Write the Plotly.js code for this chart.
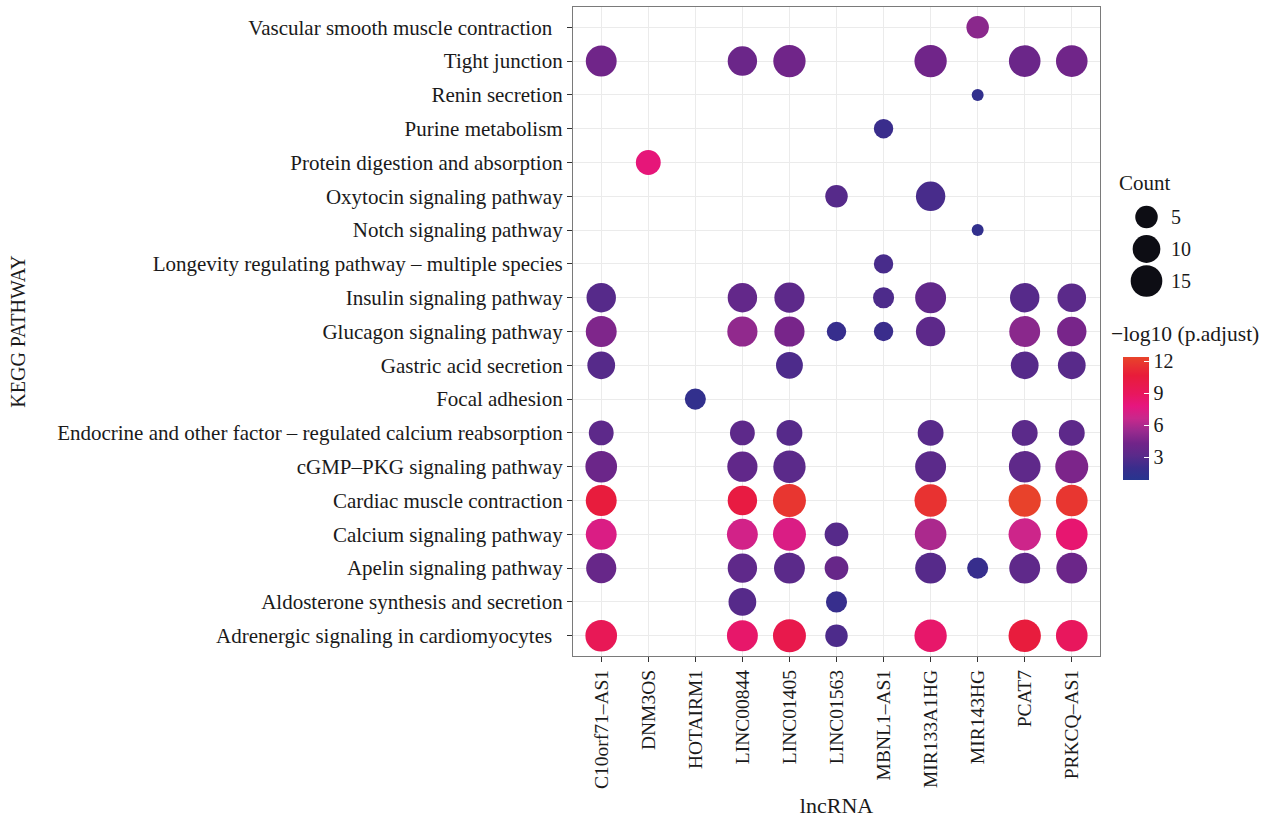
<!DOCTYPE html>
<html>
<head>
<meta charset="utf-8">
<script src="https://cdn.plot.ly/plotly-3.0.1.min.js"></script>
<style>html,body{margin:0;padding:0;background:#fff;}#chart{width:1275px;height:821px;}</style>
</head>
<body>
<div id="chart"></div>
<script>
// Categories
const lncRNAs = ["C10orf71\u2013AS1","DNM3OS","HOTAIRM1","LINC00844","LINC01405","LINC01563","MBNL1\u2013AS1","MIR133A1HG","MIR143HG","PCAT7","PRKCQ\u2013AS1"];
// bottom to top
const pathways = [
  "Adrenergic signaling in cardiomyocytes",
  "Aldosterone synthesis and secretion",
  "Apelin signaling pathway",
  "Calcium signaling pathway",
  "Cardiac muscle contraction",
  "cGMP\u2013PKG signaling pathway",
  "Endocrine and other factor \u2013 regulated calcium reabsorption",
  "Focal adhesion",
  "Gastric acid secretion",
  "Glucagon signaling pathway",
  "Insulin signaling pathway",
  "Longevity regulating pathway \u2013 multiple species",
  "Notch signaling pathway",
  "Oxytocin signaling pathway",
  "Protein digestion and absorption",
  "Purine metabolism",
  "Renin secretion",
  "Tight junction",
  "Vascular smooth muscle contraction"
];
const pathwayTickText = pathways.map(p => (p.startsWith("Vascular") || p.startsWith("Adrenergic")) ? p + "\u00a0\u00a0" : p);

// Points: pathway index (into pathways), lncRNA index, Count, -log10(p.adjust)
const ptPath = [
  18,
  17,17,17,17,17,17,
  16,
  15,
  14,
  13,13,
  12,
  11,
  10,10,10,10,10,10,10,
  9,9,9,9,9,9,9,9,
  8,8,8,8,
  7,
  6,6,6,6,6,6,
  5,5,5,5,5,5,
  4,4,4,4,4,4,
  3,3,3,3,3,3,3,
  2,2,2,2,2,2,2,2,
  1,1,
  0,0,0,0,0,0,0
];
const ptLnc = [
  8,
  0,3,4,7,9,10,
  8,
  6,
  1,
  5,7,
  8,
  6,
  0,3,4,6,7,9,10,
  0,3,4,5,6,7,9,10,
  0,4,9,10,
  2,
  0,3,4,7,9,10,
  0,3,4,7,9,10,
  0,3,4,7,9,10,
  0,3,4,5,7,9,10,
  0,3,4,5,7,8,9,10,
  3,5,
  0,3,4,5,7,9,10
];
const ptCount = [
  5,
  14,12,16,16,15,15,
  1,
  3,
  7,
  5,12,
  1,
  3,
  12,12,13,4,14,12,11,
  14,13,13,3,3,12,14,12,
  10,9,10,10,
  4,
  7,7,8,8,8,8,
  15,13,16,14,15,17,
  14,12,17,16,16,15,
  14,14,17,6,15,16,15,
  13,12,14,6,14,4,14,14,
  10,4,
  15,14,17,5,16,16,15
];
const ptLogP = [
  5.0,
  4.2,4.0,4.2,4.2,4.0,4.2,
  1.5,
  2.0,
  8.0,
  3.0,2.5,
  1.5,
  2.5,
  3.0,3.6,3.3,2.7,3.5,3.0,3.2,
  4.7,5.2,4.5,1.8,2.0,3.3,5.0,4.5,
  3.0,2.7,3.0,3.1,
  1.5,
  3.3,3.3,3.0,3.1,3.2,3.3,
  4.0,3.5,3.2,3.2,3.4,4.6,
  10.5,10.3,11.8,11.6,12.3,11.8,
  7.3,7.0,7.3,3.0,5.9,6.8,8.3,
  3.8,3.4,3.2,3.8,3.0,1.8,3.4,4.0,
  3.0,1.8,
  9.3,8.5,9.8,2.7,8.5,10.5,9.0
];
const legendCounts = [5, 10, 15];
const legendLabels = ["5", "10", "15"];
const colorTicks = [3, 6, 9, 12];

// size scale (area-like, as ggplot scale_size)
const cMin = 1, cMax = 17, dMin = 12, dMax = 33;
const sizeOf = c => dMin + (dMax - dMin) * Math.sqrt((c - cMin) / (cMax - cMin));

const FONT = "Liberation Serif, Times New Roman, serif";
const TXT = "#1a1a1a";
const colorscale = [
  [0, "#27358f"], [0.1, "#3a2d8c"], [0.2, "#5a2a8a"], [0.3, "#722489"],
  [0.4, "#9a2a8e"], [0.5, "#c8288c"], [0.6, "#e6167f"], [0.7, "#e8175e"],
  [0.85, "#e81c3a"], [1, "#e8442a"]
];

// layout geometry (pixels)
const W = 1275, H = 821;
const mL = 573, mR = 10, mT = 7, mB = 165;
const plotW = W - mL - mR, plotH = H - mT - mB;
const px = x => (x - mL) / plotW;
const py = y => (H - mB - y) / plotH;

const main = {
  type: "scatter", mode: "markers",
  x: ptLnc.map(i => lncRNAs[i]),
  y: ptPath.map(i => pathways[i]),
  xaxis: "x", yaxis: "y",
  marker: {
    size: ptCount.map(sizeOf), sizemode: "diameter", opacity: 1,
    color: ptLogP, colorscale: colorscale, cmin: 0.85, cmax: 12.4,
    line: {width: 0},
    colorbar: {
      x: px(1123), xanchor: "left", y: py(418.5), yanchor: "middle",
      thickness: 26, len: 123, lenmode: "pixels",
      outlinewidth: 0, tickvals: colorTicks, ticks: "inside", ticklen: 5,
      tickcolor: "#ffffff", tickwidth: 1,
      tickfont: {family: FONT, size: 20, color: TXT},
      xpad: 0, ypad: 0
    }
  },
  hoverinfo: "x+y+text", text: ptCount.map((c, i) => "Count " + c + ", " + ptLogP[i]),
  showlegend: false
};

const legendTrace = {
  type: "scatter", mode: "markers",
  x: legendCounts.map(() => 0), y: legendCounts,
  xaxis: "x2", yaxis: "y2",
  marker: {size: legendCounts.map(sizeOf), sizemode: "diameter", color: "#0d0d14", opacity: 1, line: {width: 0}},
  hoverinfo: "skip", showlegend: false
};

const annotations = [
  {text: "Count", xref: "paper", yref: "paper", x: px(1117), y: py(183), xanchor: "left", yanchor: "middle", showarrow: false, font: {family: FONT, size: 21, color: TXT}},
  {text: "\u2212log10 (p.adjust)", xref: "paper", yref: "paper", x: px(1109), y: py(334), xanchor: "left", yanchor: "middle", showarrow: false, font: {family: FONT, size: 21.5, color: TXT}}
];
legendCounts.forEach((c, i) => {
  annotations.push({text: legendLabels[i], xref: "paper", yref: "y2", x: px(1169), y: c, xanchor: "left", yanchor: "middle", showarrow: false, font: {family: FONT, size: 20, color: TXT}});
});

const layout = {
  width: W, height: H,
  margin: {l: mL, r: mR, t: mT, b: mB},
  paper_bgcolor: "#ffffff", plot_bgcolor: "#ffffff",
  font: {family: FONT, color: TXT},
  xaxis: {
    domain: [0, 527 / plotW],
    type: "category", categoryorder: "array", categoryarray: lncRNAs,
    range: [-0.6, lncRNAs.length - 0.4],
    showgrid: true, gridcolor: "#ebebeb", gridwidth: 1.3,
    zeroline: false, showline: true, mirror: true, linecolor: "#7a7a7a", linewidth: 1.2,
    ticks: "outside", ticklen: 5, tickcolor: "#333333", tickwidth: 1,
    tickangle: -90, tickfont: {family: FONT, size: 19.5, color: TXT},
    title: {text: "lncRNA", font: {family: FONT, size: 22, color: TXT}, standoff: 9},
    fixedrange: true
  },
  yaxis: {
    type: "category", categoryorder: "array", categoryarray: pathways,
    tickmode: "array", tickvals: pathways, ticktext: pathwayTickText,
    range: [-0.6, pathways.length - 0.4],
    showgrid: true, gridcolor: "#ebebeb", gridwidth: 1.3,
    zeroline: false, showline: true, mirror: true, linecolor: "#7a7a7a", linewidth: 1.2,
    ticks: "outside", ticklen: 5, tickcolor: "#333333", tickwidth: 1,
    tickfont: {family: FONT, size: 21, color: TXT},
    title: {text: "KEGG PATHWAY", font: {family: FONT, size: 20, color: TXT}, standoff: 26},
    fixedrange: true
  },
  xaxis2: {domain: [px(1125), px(1168)], range: [-1, 1], visible: false, fixedrange: true},
  // y2 = count: 5 -> 217px, 15 -> 281px
  yaxis2: {domain: [py(300), py(200)], anchor: "x2", range: [15 + (300 - 281) / 6.4, 5 - (217 - 200) / 6.4], visible: false, autorange: false, fixedrange: true},
  annotations: annotations,
  hovermode: "closest"
};

Plotly.newPlot("chart", [main, legendTrace], layout, {displayModeBar: false});
</script>
</body>
</html>
